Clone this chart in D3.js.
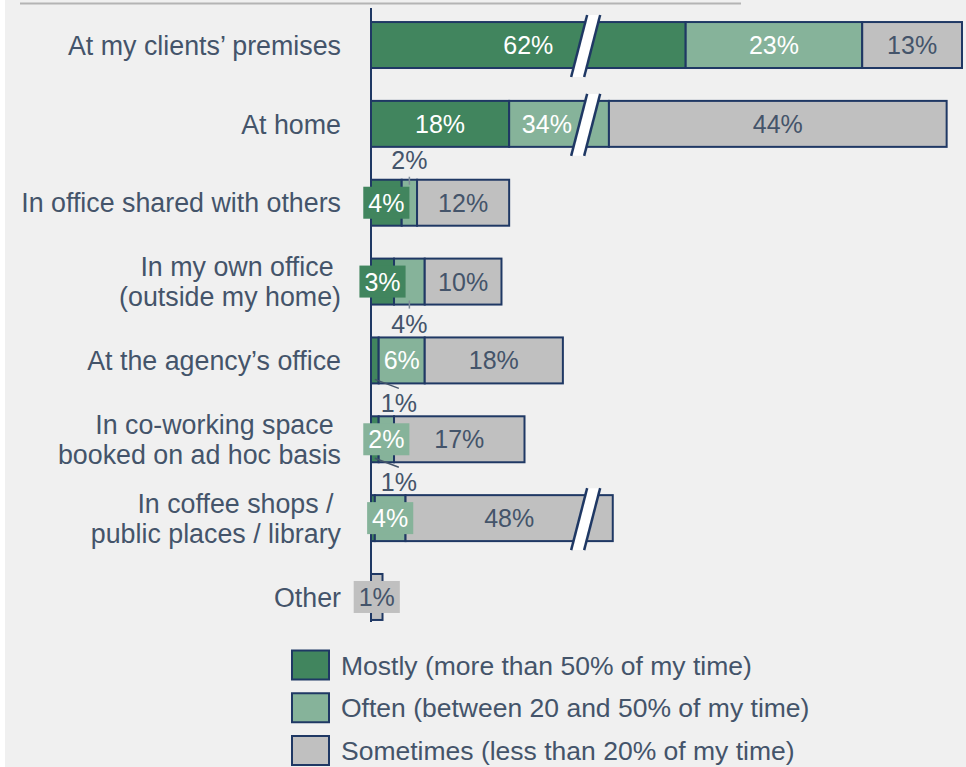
<!DOCTYPE html>
<html>
<head>
<meta charset="utf-8">
<script src="https://cdn.jsdelivr.net/npm/d3@7"></script>
<style>
  html, body { margin: 0; padding: 0; background: #ffffff; }
  svg { display: block; }
  text { font-family: "Liberation Sans", Arial, sans-serif; }
</style>
</head>
<body>
<svg id="chart" width="966" height="767"></svg>
<script>
// ---------------- data ----------------
const categories = [
  "At my clients’ premises",
  "At home",
  "In office shared with others",
  "In my own office \n(outside my home)",
  "At the agency’s office",
  "In co-working space \nbooked on ad hoc basis",
  "In coffee shops / \npublic places / library",
  "Other"
];
const seriesNames = [
  "Mostly (more than 50% of my time)",
  "Often (between 20 and 50% of my time)",
  "Sometimes (less than 20% of my time)"
];
const mostly    = [62, 18, 4, 3, 1, 1, 0.5, 0];
const often     = [23, 34, 2, 4, 6, 2, 4, 0];
const sometimes = [13, 44, 12, 10, 18, 17, 48, 1.5];
const valueLabels = [
  ["62%", "23%", "13%"],
  ["18%", "34%", "44%"],
  ["4%", "2%", "12%"],
  ["3%", "4%", "10%"],
  ["1%", "6%", "18%"],
  ["1%", "2%", "17%"],
  ["", "4%", "48%"],
  ["", "", "1%"]
];
// axis break: values between these two are hidden
const breakFrom = 28;
const breakTo = 49;
const domainMax = 98;

// ---------------- layout / style ----------------
const W = 966, H = 767;
const colors = ["#41855e", "#86b39a", "#c0c0c0"];
const textColors = ["#ffffff", "#ffffff", "#44546a"];
const navy = "#1f3864";
const slate = "#44546a";
const x0 = 371, x1 = 962;
const valueFont = 25, catFont = 26.8, legendFont = 26.5;

// callout placements for labels that do not fit in their segment
const callout = {
  "2|1": "above",
  "3|1": "below",
  "4|0": "diag",
  "5|0": "diag"
};

const svg = d3.select("#chart");
svg.append("rect").attr("x", 0).attr("y", 0).attr("width", W).attr("height", H).attr("fill", "#ffffff");
svg.append("rect").attr("x", 5).attr("y", 0).attr("width", W - 5).attr("height", H).attr("fill", "#f0f0f0");
svg.append("line").attr("x1", 20).attr("x2", 741).attr("y1", 3.5).attr("y2", 3.5)
  .attr("stroke", "#b4b4b4").attr("stroke-width", 2);

const xb = x0 + breakFrom * (x1 - x0) / (domainMax - (breakTo - breakFrom));
const x = d3.scaleLinear()
  .domain([0, breakFrom, breakTo, domainMax])
  .range([x0, xb, xb, x1]);

const y = d3.scaleBand()
  .domain(categories)
  .range([5.6, 636.4])
  .paddingInner(0.417)
  .paddingOuter(0.2085);

const seriesArrays = [mostly, often, sometimes];
const rows = categories.map((c, i) => {
  let acc = 0;
  const segs = seriesArrays.map((arr, s) => {
    const v = arr[i];
    const seg = {cat: c, row: i, s, v, start: acc, end: acc + v, label: valueLabels[i][s]};
    acc += v;
    return seg;
  });
  return {cat: c, i, segs, total: acc};
});

const g = svg.append("g");

// bars
rows.forEach(r => {
  r.segs.filter(d => d.v > 0).forEach(d => {
    g.append("rect")
      .attr("x", x(d.start))
      .attr("y", y(r.cat))
      .attr("width", Math.max(0, x(d.end) - x(d.start)))
      .attr("height", y.bandwidth())
      .attr("fill", colors[d.s])
      .attr("stroke", navy)
      .attr("stroke-width", 2);
  });
});

// break markers
rows.forEach(r => {
  if (r.total > breakTo) {
    const top = y(r.cat) - 7, bot = y(r.cat) + y.bandwidth() + 9;
    const mid = y(r.cat) + y.bandwidth() / 2;
    const slope = 16 / 62;
    const cx = yy => xb + (mid - yy) * slope;
    const hw = 6.5;
    g.append("path")
      .attr("d", `M${cx(top) - hw},${top} L${cx(top) + hw},${top} L${cx(bot) + hw},${bot} L${cx(bot) - hw},${bot} Z`)
      .attr("fill", "#ffffff");
    [-hw, hw].forEach(o => {
      g.append("line")
        .attr("x1", cx(top) + o).attr("y1", top)
        .attr("x2", cx(bot) + o).attr("y2", bot)
        .attr("stroke", navy).attr("stroke-width", 2.5);
    });
  }
});

// axis line
g.append("line").attr("x1", x0).attr("x2", x0).attr("y1", 8).attr("y2", 622)
  .attr("stroke", navy).attr("stroke-width", 2);

// value labels
function textWidth(str, size) {
  const t = svg.append("text").attr("font-size", size).text(str);
  const w = t.node().getComputedTextLength();
  t.remove();
  return w;
}
rows.forEach(r => {
  const top = y(r.cat), bot = y(r.cat) + y.bandwidth(), mid = top + y.bandwidth() / 2;
  r.segs.forEach(d => {
    if (!d.label) return;
    const label = d.label;
    const w = textWidth(label, valueFont);
    const xs = x(d.start), xe = x(d.end);
    let cxl = (xs + xe) / 2;
    if (d.start < breakFrom && d.end > breakTo) cxl = Math.min(cxl, xb - 14 - w / 2);
    const key = r.i + "|" + d.s;
    const mode = callout[key] || ((xe - xs) >= w + 6 ? "inside" : "box");
    if (mode === "inside") {
      g.append("text").attr("x", cxl).attr("y", mid + valueFont * 0.36)
        .attr("text-anchor", "middle").attr("font-size", valueFont)
        .attr("fill", textColors[d.s]).text(label);
    } else if (mode === "box") {
      const bw = w + 10, bh = 32;
      g.append("rect").attr("x", cxl - bw / 2).attr("y", mid - bh / 2)
        .attr("width", bw).attr("height", bh).attr("fill", colors[d.s]);
      g.append("text").attr("x", cxl).attr("y", mid + valueFont * 0.36)
        .attr("text-anchor", "middle").attr("font-size", valueFont)
        .attr("fill", textColors[d.s]).text(label);
    } else if (mode === "above") {
      g.append("line").attr("x1", cxl).attr("x2", cxl).attr("y1", top - 3).attr("y2", top + 5)
        .attr("stroke", "#7f8c99").attr("stroke-width", 1.5);
      g.append("text").attr("x", cxl).attr("y", top - 20 + valueFont * 0.36)
        .attr("text-anchor", "middle").attr("font-size", valueFont)
        .attr("fill", slate).text(label);
    } else if (mode === "below") {
      g.append("line").attr("x1", cxl).attr("x2", cxl).attr("y1", bot - 4).attr("y2", bot + 4)
        .attr("stroke", "#7f8c99").attr("stroke-width", 1.5);
      g.append("text").attr("x", cxl).attr("y", bot + 19 + valueFont * 0.36)
        .attr("text-anchor", "middle").attr("font-size", valueFont)
        .attr("fill", slate).text(label);
    } else if (mode === "diag") {
      g.append("line").attr("x1", cxl).attr("y1", bot - 4)
        .attr("x2", cxl + 24).attr("y2", bot + 5)
        .attr("stroke", slate).attr("stroke-width", 1.4);
      g.append("text").attr("x", cxl + 24).attr("y", bot + 20 + valueFont * 0.36)
        .attr("text-anchor", "middle").attr("font-size", valueFont)
        .attr("fill", slate).text(label);
    }
  });
});

// category labels
categories.forEach(c => {
  const lines = c.split("\n");
  const mid = y(c) + y.bandwidth() / 2;
  const lh = 30;
  const t = g.append("text").attr("text-anchor", "end").attr("font-size", catFont)
    .attr("fill", slate).style("white-space", "pre");
  lines.forEach((ln, k) => {
    t.append("tspan").attr("x", 341)
      .attr("y", mid + (k - (lines.length - 1) / 2) * lh + catFont * 0.36)
      .text(ln);
  });
});

// legend
const legendY = d3.scalePoint().domain(seriesNames).range([665, 750.5]);
seriesNames.forEach((n, s) => {
  const cy = legendY(n);
  svg.append("rect").attr("x", 292).attr("y", cy - 14.5).attr("width", 37).attr("height", 29)
    .attr("fill", colors[s]).attr("stroke", navy).attr("stroke-width", 2);
  svg.append("text").attr("x", 341).attr("y", cy + legendFont * 0.36)
    .attr("font-size", legendFont).attr("fill", slate).text(n);
});
</script>
</body>
</html>
